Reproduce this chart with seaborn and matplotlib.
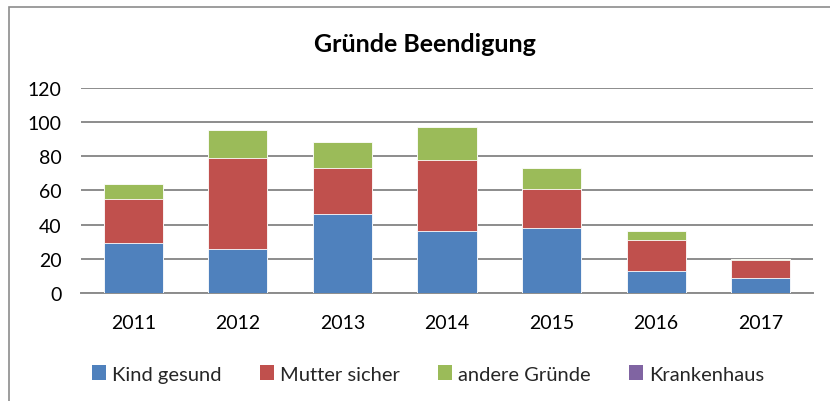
import pandas as pd
import matplotlib.pyplot as plt
import seaborn as sns
from matplotlib.patches import Patch, Rectangle

jahre = ["2011", "2012", "2013", "2014", "2015", "2016", "2017"]
kind_gesund = [29, 26, 46, 36, 38, 13, 9]
mutter_sicher = [26, 53, 27, 42, 23, 18, 10]
andere_gruende = [9, 16, 15, 19, 12, 5, 1]
krankenhaus = [0, 0, 0, 0, 0, 0, 0]

serien = ["Kind gesund", "Mutter sicher", "andere Gründe", "Krankenhaus"]
farben = ["#4F81BD", "#C0504D", "#9BBB59", "#8064A2"]

df = pd.DataFrame({
    "Jahr": jahre,
    "Kind gesund": kind_gesund,
    "Mutter sicher": mutter_sicher,
    "andere Gründe": andere_gruende,
    "Krankenhaus": krankenhaus,
})
# kumulierte Summen fuer gestapelte Balken
kum = df[serien].cumsum(axis=1)
kum["Jahr"] = df["Jahr"]

sns.set_theme(style="white")
plt.rcParams["font.family"] = ["Lato", "DejaVu Sans"]

fig = plt.figure(figsize=(8.3, 4.02), dpi=100)
ax = fig.add_axes([81 / 830, 1 - 294 / 402, (813 - 81) / 830, (294 - 88.7) / 402])

# von oben nach unten zeichnen, damit die kleineren Summen darueber liegen
for name, farbe in reversed(list(zip(serien, farben))):
    sns.barplot(data=kum, x="Jahr", y=name, color=farbe, width=0.565,
                edgecolor="white", linewidth=0.6, saturation=1, ax=ax, zorder=3)

ax.set_ylim(0, 120)
ax.set_yticks(range(0, 121, 20))
ax.set_xlabel("")
ax.set_ylabel("")
ax.grid(axis="y", color="#8c8c8c", linewidth=1.4, zorder=0)
ax.set_axisbelow(True)
for s in ["top", "right", "left"]:
    ax.spines[s].set_visible(False)
ax.spines["bottom"].set_color("#8c8c8c")
ax.spines["bottom"].set_linewidth(1.4)
ax.tick_params(axis="x", length=0, pad=15, labelsize=14, colors="black")
ax.tick_params(axis="y", length=0, pad=14, labelsize=14, colors="black")

fig.text(0.512, 1 - 45 / 402, "Gründe Beendigung", ha="center", va="center",
         fontsize=18, fontweight="bold", color="black")

handles = [Patch(facecolor=f, edgecolor="none", label=n) for n, f in zip(serien, farben)]
fig.legend(handles=handles, loc="center", bbox_to_anchor=(0.516, 1 - 375 / 402), ncol=4,
           frameon=False, fontsize=14.5, handlelength=0.7, handleheight=0.7,
           handletextpad=0.3, columnspacing=1.9)

# Rahmen um den Diagrammbereich
fig.patches.append(Rectangle((9 / 830, -0.1), 1.2, 1 - 8 / 402 + 0.1, transform=fig.transFigure,
                             fill=False, edgecolor="#8c8c8c", linewidth=1.2))

fig.savefig("out.png", dpi=100)
